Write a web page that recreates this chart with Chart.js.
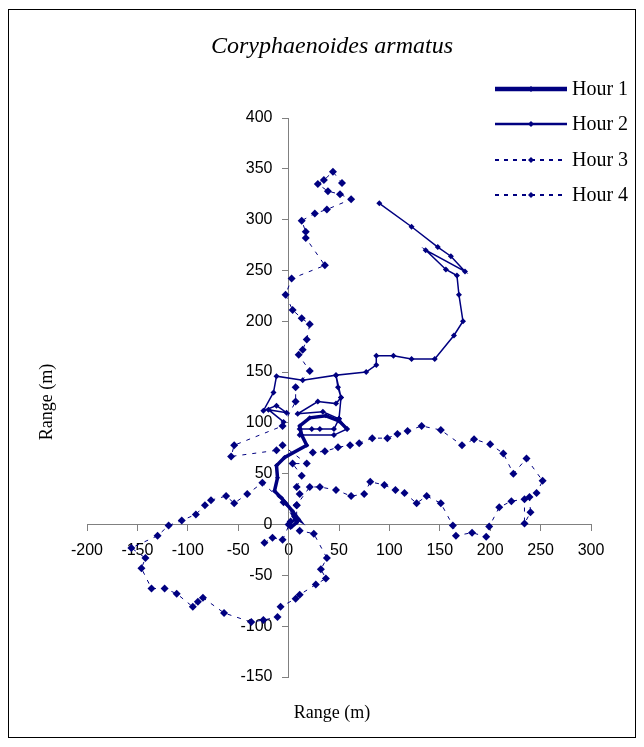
<!DOCTYPE html>
<html>
<head>
<meta charset="utf-8">
<script src="https://cdn.jsdelivr.net/npm/chart.js@4.4.0/dist/chart.umd.min.js"></script>
<style>
  html, body { margin: 0; padding: 0; background: #fff; }
  #wrap { position: relative; width: 644px; height: 747px; }
</style>
</head>
<body>
<div id="wrap"><canvas id="track" width="644" height="747"></canvas></div>
<script>
var TITLE = "Coryphaenoides armatus";
var AXIS_TITLE = "Range (m)";
var SERIES = ["Hour 1", "Hour 2", "Hour 3", "Hour 4"];
var X_TICKS = [-200, -150, -100, -50, 0, 50, 100, 150, 200, 250, 300];
var Y_TICKS = [-150, -100, -50, 0, 50, 100, 150, 200, 250, 300, 350, 400];

// track positions (m)
var hour1X = [2, 8, 5, 10, 4, -2, -7, -14, -11, -12, -4, 18, 13, 11, 21, 37, 50, 58];
var hour1Y = [-3, 2, 8, 5, 13, 20, 26, 33, 46, 58, 66, 78, 88, 97, 105, 107, 102, 94];

var hour2X = [-5, -20, -2, -12, -25, -15, -12, 14, 47, 49, 52, 47, 29, 9, 34, 50, 45, 31, 23, 11, 11, 45, 58, 50, 52, 47, 77, 87, 87, 104, 122, 145, 164, 173, 169, 167, 156, 136, 175, 161, 148, 122, 90];
var hour2Y = [101, 113, 110, 117, 112, 130, 146, 142, 147, 135, 125, 119, 121, 109, 111, 104, 94, 94, 94, 94, 88, 88, 94, 104, 125, 147, 150, 157, 166, 166, 163, 163, 186, 200, 226, 245, 251, 270, 249, 264, 273, 293, 316];

var hour3X = [-24, -16, -6, 2, 8, 8, 11, 8, 13, 4, 18, -6, -12, -57, -54, -6, 7, 7, 21, 10, 14, 18, 21, 13, 4, -3, 3, 36, 17, 17, 13, 26, 38, 62, 51, 39, 29, 35, 44, 53];
var hour3Y = [-18, -13, -15, 3, 5, 19, 30, 37, 48, 60, 60, 78, 73, 67, 78, 97, 121, 135, 151, 167, 172, 182, 197, 203, 211, 226, 242, 255, 282, 288, 299, 306, 310, 320, 325, 328, 335, 339, 347, 336];

var hour4X = [0, 11, 25, 38, 32, 37, 27, 11, 7, -8, -11, -25, -37, -64, -85, -90, -95, -111, -123, -136, -146, -142, -156, -130, -119, -106, -92, -83, -77, -62, -54, -41, -26, -5, 8, 21, 31, 47, 62, 75, 81, 95, 106, 115, 127, 137, 151, 163, 166, 182, 196, 199, 209, 221, 234, 234, 240, 239, 246, 252, 236, 223, 213, 200, 184, 172, 151, 132, 118, 108, 98, 83, 70, 61, 49, 36, 24];
var hour4Y = [0, -6, -9, -33, -44, -53, -59, -69, -73, -81, -91, -94, -96, -87, -72, -76, -81, -68, -63, -63, -43, -33, -23, -11, -1, 4, 10, 19, 24, 28, 21, 30, 41, 22, 19, 37, 37, 34, 28, 30, 42, 39, 34, 31, 21, 28, 21, -1, -11, -8, -12, -2, 17, 23, 25, 1, 12, 27, 31, 43, 65, 50, 70, 79, 84, 78, 93, 97, 92, 89, 85, 85, 80, 78, 76, 72, 71];

var NAVY = "#000080";

function toPoints(xs, ys) {
    var pts = [];
    for (var i = 0; i < xs.length; i++) {
        pts.push({ x: xs[i], y: ys[i] });
    }
    return pts;
}

function diamond(ctx, x, y, r) {
    ctx.beginPath();
    ctx.moveTo(x, y - r);
    ctx.lineTo(x + r, y);
    ctx.lineTo(x, y + r);
    ctx.lineTo(x - r, y);
    ctx.closePath();
    ctx.fill();
}

function fixedTicks(list) {
    return function (scale) {
        scale.ticks = list.map(function (v) { return { value: v }; });
    };
}

// title, legend, axis titles and the frame
var decor = {
    id: "decor",
    afterDraw: function (chart) {
        var ctx = chart.ctx;
        ctx.save();
        ctx.strokeStyle = "#000";
        ctx.lineWidth = 1;
        ctx.strokeRect(8.5, 9.5, 627, 728);

        ctx.fillStyle = "#000";
        ctx.textAlign = "center";
        ctx.textBaseline = "middle";
        ctx.font = "italic 24px 'Liberation Serif'";
        ctx.fillText(TITLE, 332, 47);
        ctx.font = "18px 'Liberation Serif'";
        ctx.fillText(AXIS_TITLE, 332, 713);
        ctx.save();
        ctx.translate(47, 402);
        ctx.rotate(-Math.PI / 2);
        ctx.fillText(AXIS_TITLE, 0, 0);
        ctx.restore();

        var rows = [89, 124, 160, 195];
        chart.data.datasets.forEach(function (ds, i) {
            var y = rows[i];
            ctx.strokeStyle = NAVY;
            ctx.lineWidth = ds.borderDash ? 2 : ds.borderWidth + 1;
            ctx.setLineDash(ds.borderDash ? [4, 5] : []);
            ctx.beginPath();
            ctx.moveTo(495, y);
            ctx.lineTo(567, y);
            ctx.stroke();
            ctx.setLineDash([]);
            ctx.fillStyle = NAVY;
            diamond(ctx, 531, y, 3);
            ctx.fillStyle = "#000";
            ctx.textAlign = "left";
            ctx.font = "20px 'Liberation Serif'";
            ctx.fillText(ds.label, 572, y + 1);
        });
        ctx.restore();
    }
};

var tickFont = { family: "'Liberation Sans'", size: 16 };

var ctx = document.getElementById("track").getContext("2d");
var chart = new Chart(ctx, {
    type: "scatter",
    data: {
        datasets: [
            {
                label: SERIES[0],
                data: toPoints(hour1X, hour1Y),
                showLine: true,
                borderColor: NAVY,
                backgroundColor: NAVY,
                borderWidth: 3.5,
                pointStyle: "rectRot",
                pointRadius: 2.5,
                pointBorderWidth: 0
            },
            {
                label: SERIES[1],
                data: toPoints(hour2X, hour2Y),
                showLine: true,
                borderColor: NAVY,
                backgroundColor: NAVY,
                borderWidth: 1.5,
                pointStyle: "rectRot",
                pointRadius: 3,
                pointBorderWidth: 0
            },
            {
                label: SERIES[2],
                data: toPoints(hour3X, hour3Y),
                showLine: true,
                borderColor: NAVY,
                backgroundColor: NAVY,
                borderWidth: 1,
                borderDash: [4, 6],
                pointStyle: "rectRot",
                pointRadius: 4,
                pointBorderWidth: 0
            },
            {
                label: SERIES[3],
                data: toPoints(hour4X, hour4Y),
                showLine: true,
                borderColor: NAVY,
                backgroundColor: NAVY,
                borderWidth: 1,
                borderDash: [4, 6],
                pointStyle: "rectRot",
                pointRadius: 4,
                pointBorderWidth: 0
            }
        ]
    },
    options: {
        responsive: false,
        animation: false,
        layout: {
            padding: { left: 87, right: 53, top: 118, bottom: 70 }
        },
        plugins: {
            legend: { display: false },
            title: { display: false },
            tooltip: { enabled: false }
        },
        scales: {
            x: {
                type: "linear",
                min: X_TICKS[0],
                max: X_TICKS[X_TICKS.length - 1],
                position: { y: 0 },
                afterBuildTicks: fixedTicks(X_TICKS),
                ticks: { color: "#000", padding: 10, font: tickFont },
                grid: { drawOnChartArea: false, drawTicks: true, tickLength: 6, color: "#808080" },
                border: { color: "#808080", width: 1 }
            },
            y: {
                type: "linear",
                min: Y_TICKS[0],
                max: Y_TICKS[Y_TICKS.length - 1],
                position: { x: 0 },
                afterBuildTicks: fixedTicks(Y_TICKS),
                ticks: { display: false },
                grid: { drawOnChartArea: false, drawTicks: true, tickLength: 6, color: "#808080" },
                border: { color: "#808080", width: 1 }
            },
            // labels only, set left of the crossing axis
            yLabels: {
                type: "linear",
                axis: "y",
                min: Y_TICKS[0],
                max: Y_TICKS[Y_TICKS.length - 1],
                position: { x: -16 },
                afterBuildTicks: fixedTicks(Y_TICKS),
                ticks: { color: "#000", font: tickFont },
                grid: { display: false },
                border: { display: false }
            }
        }
    },
    plugins: [decor]
});
</script>
</body>
</html>
